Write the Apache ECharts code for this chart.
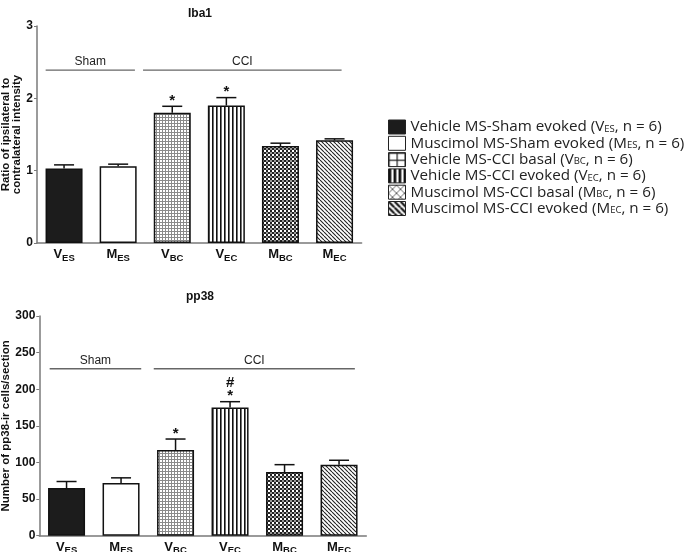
<!DOCTYPE html>
<html><head><meta charset="utf-8">
<script src="https://cdn.jsdelivr.net/npm/echarts@6/dist/echarts.min.js"></script>
<style>html,body{margin:0;padding:0;background:#fff}#c{width:685px;height:552px}</style>
</head><body><div id="c"></div>
<script>
// ---- data ----
const catMain = ['V','M','V','V','M','M'];
const catSub  = ['ES','ES','BC','EC','BC','EC'];
const groupDesc = ['Vehicle MS-Sham evoked','Muscimol MS-Sham evoked','Vehicle MS-CCI basal','Vehicle MS-CCI evoked','Muscimol MS-CCI basal','Muscimol MS-CCI evoked'];
const groupN = [6,6,6,6,6,6];
const iba1Mean = [1.03,1.06,1.80,1.90,1.34,1.42];
const iba1Err  = [0.05,0.03,0.09,0.11,0.04,0.02];
const pp38Mean = [65,72,117,175,87,97];
const pp38Err  = [9,7,15,8,10,6];
const iba1Marks = ['','','*','*','',''];
const pp38Marks = ['','','*','#\n*','',''];
const bracketLabels = ['Sham','CCI'];
// [start category, end category, y value]
const iba1Brackets = [[-0.34,1.31,2.39],[1.46,5.13,2.39]];
const pp38Brackets = [[-0.31,1.37,228],[1.6,5.29,228]];

// ---- patterns ----
function pat(w,h,draw){const c=document.createElement('canvas');c.width=w;c.height=h;const g=c.getContext('2d');g.fillStyle='#fff';g.fillRect(0,0,w,h);draw(g,w,h);return {image:c,repeat:'repeat'};}
const barFills = [
  '#1c1c1c',
  '#ffffff',
  pat(3,3,(g)=>{g.fillStyle='#8a8a8a';g.fillRect(0,0,3,1);g.fillRect(0,0,1,3);}),
  pat(4,4,(g)=>{g.fillStyle='#111';g.fillRect(0,0,1.6,4);}),
  pat(4,4,(g)=>{g.fillStyle='#222';g.fillRect(0,0,2,2);g.fillRect(2,2,2,2);g.fillStyle='#999';g.fillRect(2,0,2,2);}),
  pat(4,4,(g)=>{g.strokeStyle='#222';g.lineWidth=1.1;g.beginPath();for(let k=-4;k<=4;k+=4){g.moveTo(k,0);g.lineTo(k+4,4);}g.stroke();})
];
const legendFills = [
  '#1c1c1c',
  '#ffffff',
  pat(8,7,(g)=>{g.fillStyle='#222';g.fillRect(0,0,8,1.2);g.fillRect(0,0,1.2,7);}),
  pat(5,5,(g)=>{g.fillStyle='#111';g.fillRect(0,0,2.8,5);}),
  pat(8,8,(g)=>{g.strokeStyle='#555';g.lineWidth=0.9;g.beginPath();g.moveTo(0,0);g.lineTo(8,8);g.moveTo(8,0);g.lineTo(0,8);g.stroke();}),
  pat(6,6,(g)=>{g.strokeStyle='#111';g.lineWidth=2.2;g.beginPath();for(let k=-6;k<=6;k+=6){g.moveTo(k,0);g.lineTo(k+6,6);}g.stroke();})
];

const seriesNames = groupDesc.map((d,i)=>d+' ('+catMain[i]+catSub[i]+', n = '+groupN[i]+')');
const legendLabel = {};
groupDesc.forEach((d,i)=>{legendLabel[seriesNames[i]] = d+' ('+catMain[i]+'{s|'+catSub[i]+'}, n = '+groupN[i]+')';});

const chart = echarts.init(document.getElementById('c'), null, {renderer:'canvas'});
const axisGray = '#7a7a7a';

function xAxisFor(gi){
  return {type:'category', gridIndex:gi, data: catMain.map((m,i)=>m+catSub[i]),
    axisLine:{lineStyle:{color:axisGray,width:1.5}},
    axisTick:{alignWithLabel:true,length:3,lineStyle:{color:axisGray}},
    axisLabel:{margin:5, interval:0, formatter:(v,i)=>'{m|'+catMain[i]+'}{s|'+catSub[i]+'}',
      rich:{m:{fontFamily:'Liberation Sans',fontWeight:'bold',fontSize:13,color:'#111',verticalAlign:'top',lineHeight:15},
            s:{fontFamily:'Liberation Sans',fontWeight:'bold',fontSize:9.5,color:'#111',verticalAlign:'top',lineHeight:15,padding:[5,0,0,0]}}}};
}
function yAxisFor(gi,max,interval,name,gap){
  return {type:'value', gridIndex:gi, min:0, max:max, interval:interval,
    name:name, nameLocation:'middle', nameGap:gap, nameRotate:90,
    nameTextStyle:{fontFamily:'Liberation Sans',fontWeight:'bold',fontSize:11.5,color:'#111',lineHeight:11},
    axisLine:{show:true,lineStyle:{color:axisGray,width:1.5}},
    axisTick:{show:true,length:3,lineStyle:{color:axisGray}},
    splitLine:{show:false},
    axisLabel:{margin:4,fontFamily:'Liberation Sans',fontWeight:'bold',fontSize:12,color:'#111'}};
}

const series = [];
function addChart(gi, means, errs, marks, brackets){
  means.forEach((v,i)=>{
    series.push({type:'bar', name:seriesNames[i], xAxisIndex:gi, yAxisIndex:gi,
      data: means.map((vv,j)=> j===i ? vv : '-'),
      barWidth:37, barGap:'-100%',
      itemStyle:{color:barFills[i], borderColor:'#111', borderWidth:1.5}});
  });
  series.push({type:'custom', xAxisIndex:gi, yAxisIndex:gi, z:5, silent:true,
    data: means.map((m,i)=>[i,m,errs[i]]),
    renderItem:(params,api)=>{
      const i=api.value(0), m=api.value(1), e=api.value(2);
      const p0=api.coord([i,m]), p1=api.coord([i,m+e]);
      const st={stroke:'#111',lineWidth:1.5};
      const ch=[{type:'line',shape:{x1:p0[0],y1:p0[1],x2:p1[0],y2:p1[1]},style:st},
                {type:'line',shape:{x1:p1[0]-10,y1:p1[1],x2:p1[0]+10,y2:p1[1]},style:st}];
      const mk=marks[params.dataIndex];
      if(mk){ch.push({type:'text',style:{text:mk,x:p1[0],y:p1[1]+1,align:'center',verticalAlign:'bottom',
        font:'bold 15px Liberation Sans',lineHeight:13,fill:'#111'}});}
      return {type:'group',children:ch};
    }});
  series.push({type:'custom', xAxisIndex:gi, yAxisIndex:gi, z:5, silent:true,
    data: brackets.map((b,i)=>[0,b[2]]),
    renderItem:(params,api)=>{
      const b=brackets[params.dataIndex];
      const base=api.coord([0,b[2]]);
      const bw=api.size([1,0])[0];
      const xa=base[0]+b[0]*bw, xb=base[0]+b[1]*bw, y=base[1];
      return {type:'group',children:[
        {type:'line',shape:{x1:xa,y1:y,x2:xb,y2:y},style:{stroke:'#666',lineWidth:1.3}},
        {type:'text',style:{text:bracketLabels[params.dataIndex],x:(xa+xb)/2,y:y-2,align:'center',verticalAlign:'bottom',
          font:'12px Liberation Sans',fill:'#222'}}]};
    }});
}
addChart(0, iba1Mean, iba1Err, iba1Marks, iba1Brackets);
addChart(1, pp38Mean, pp38Err, pp38Marks, pp38Brackets);

chart.setOption({
  animation:false,
  backgroundColor:'#fff',
  grid:[{left:37, top:26, width:324.6, height:217, containLabel:false, outerBoundsMode:'none'},
        {left:39.3, top:316, width:327, height:219.7, containLabel:false, outerBoundsMode:'none'}],
  xAxis:[xAxisFor(0), xAxisFor(1)],
  yAxis:[yAxisFor(0,3,1,'Ratio of ipsilateral to\ncontralateral intensity',12),
         yAxisFor(1,300,50,'Number of pp38-ir cells/section',26)],
  legend:{orient:'vertical', left:383, top:114, itemWidth:17, itemHeight:14, itemGap:0.3, icon:'rect',
    selectedMode:false,
    data: seriesNames.map((n,i)=>({name:n, itemStyle:{color:legendFills[i], borderColor:'#222', borderWidth:1}})),
    formatter:(n)=>legendLabel[n],
    textStyle:{fontFamily:'Open Sans',fontSize:15.2,lineHeight:16,color:'#222',
      rich:{s:{fontFamily:'Open Sans',fontSize:9.5,lineHeight:16,color:'#222',padding:[4,0,0,0]}}}},
  graphic:[
    {type:'text',x:200,y:14,style:{text:'Iba1',font:'bold 12px Liberation Sans',fill:'#111',align:'center',verticalAlign:'middle'}},
    {type:'text',x:200,y:297,style:{text:'pp38',font:'bold 12px Liberation Sans',fill:'#111',align:'center',verticalAlign:'middle'}}
  ],
  series:series
});
</script></body></html>
